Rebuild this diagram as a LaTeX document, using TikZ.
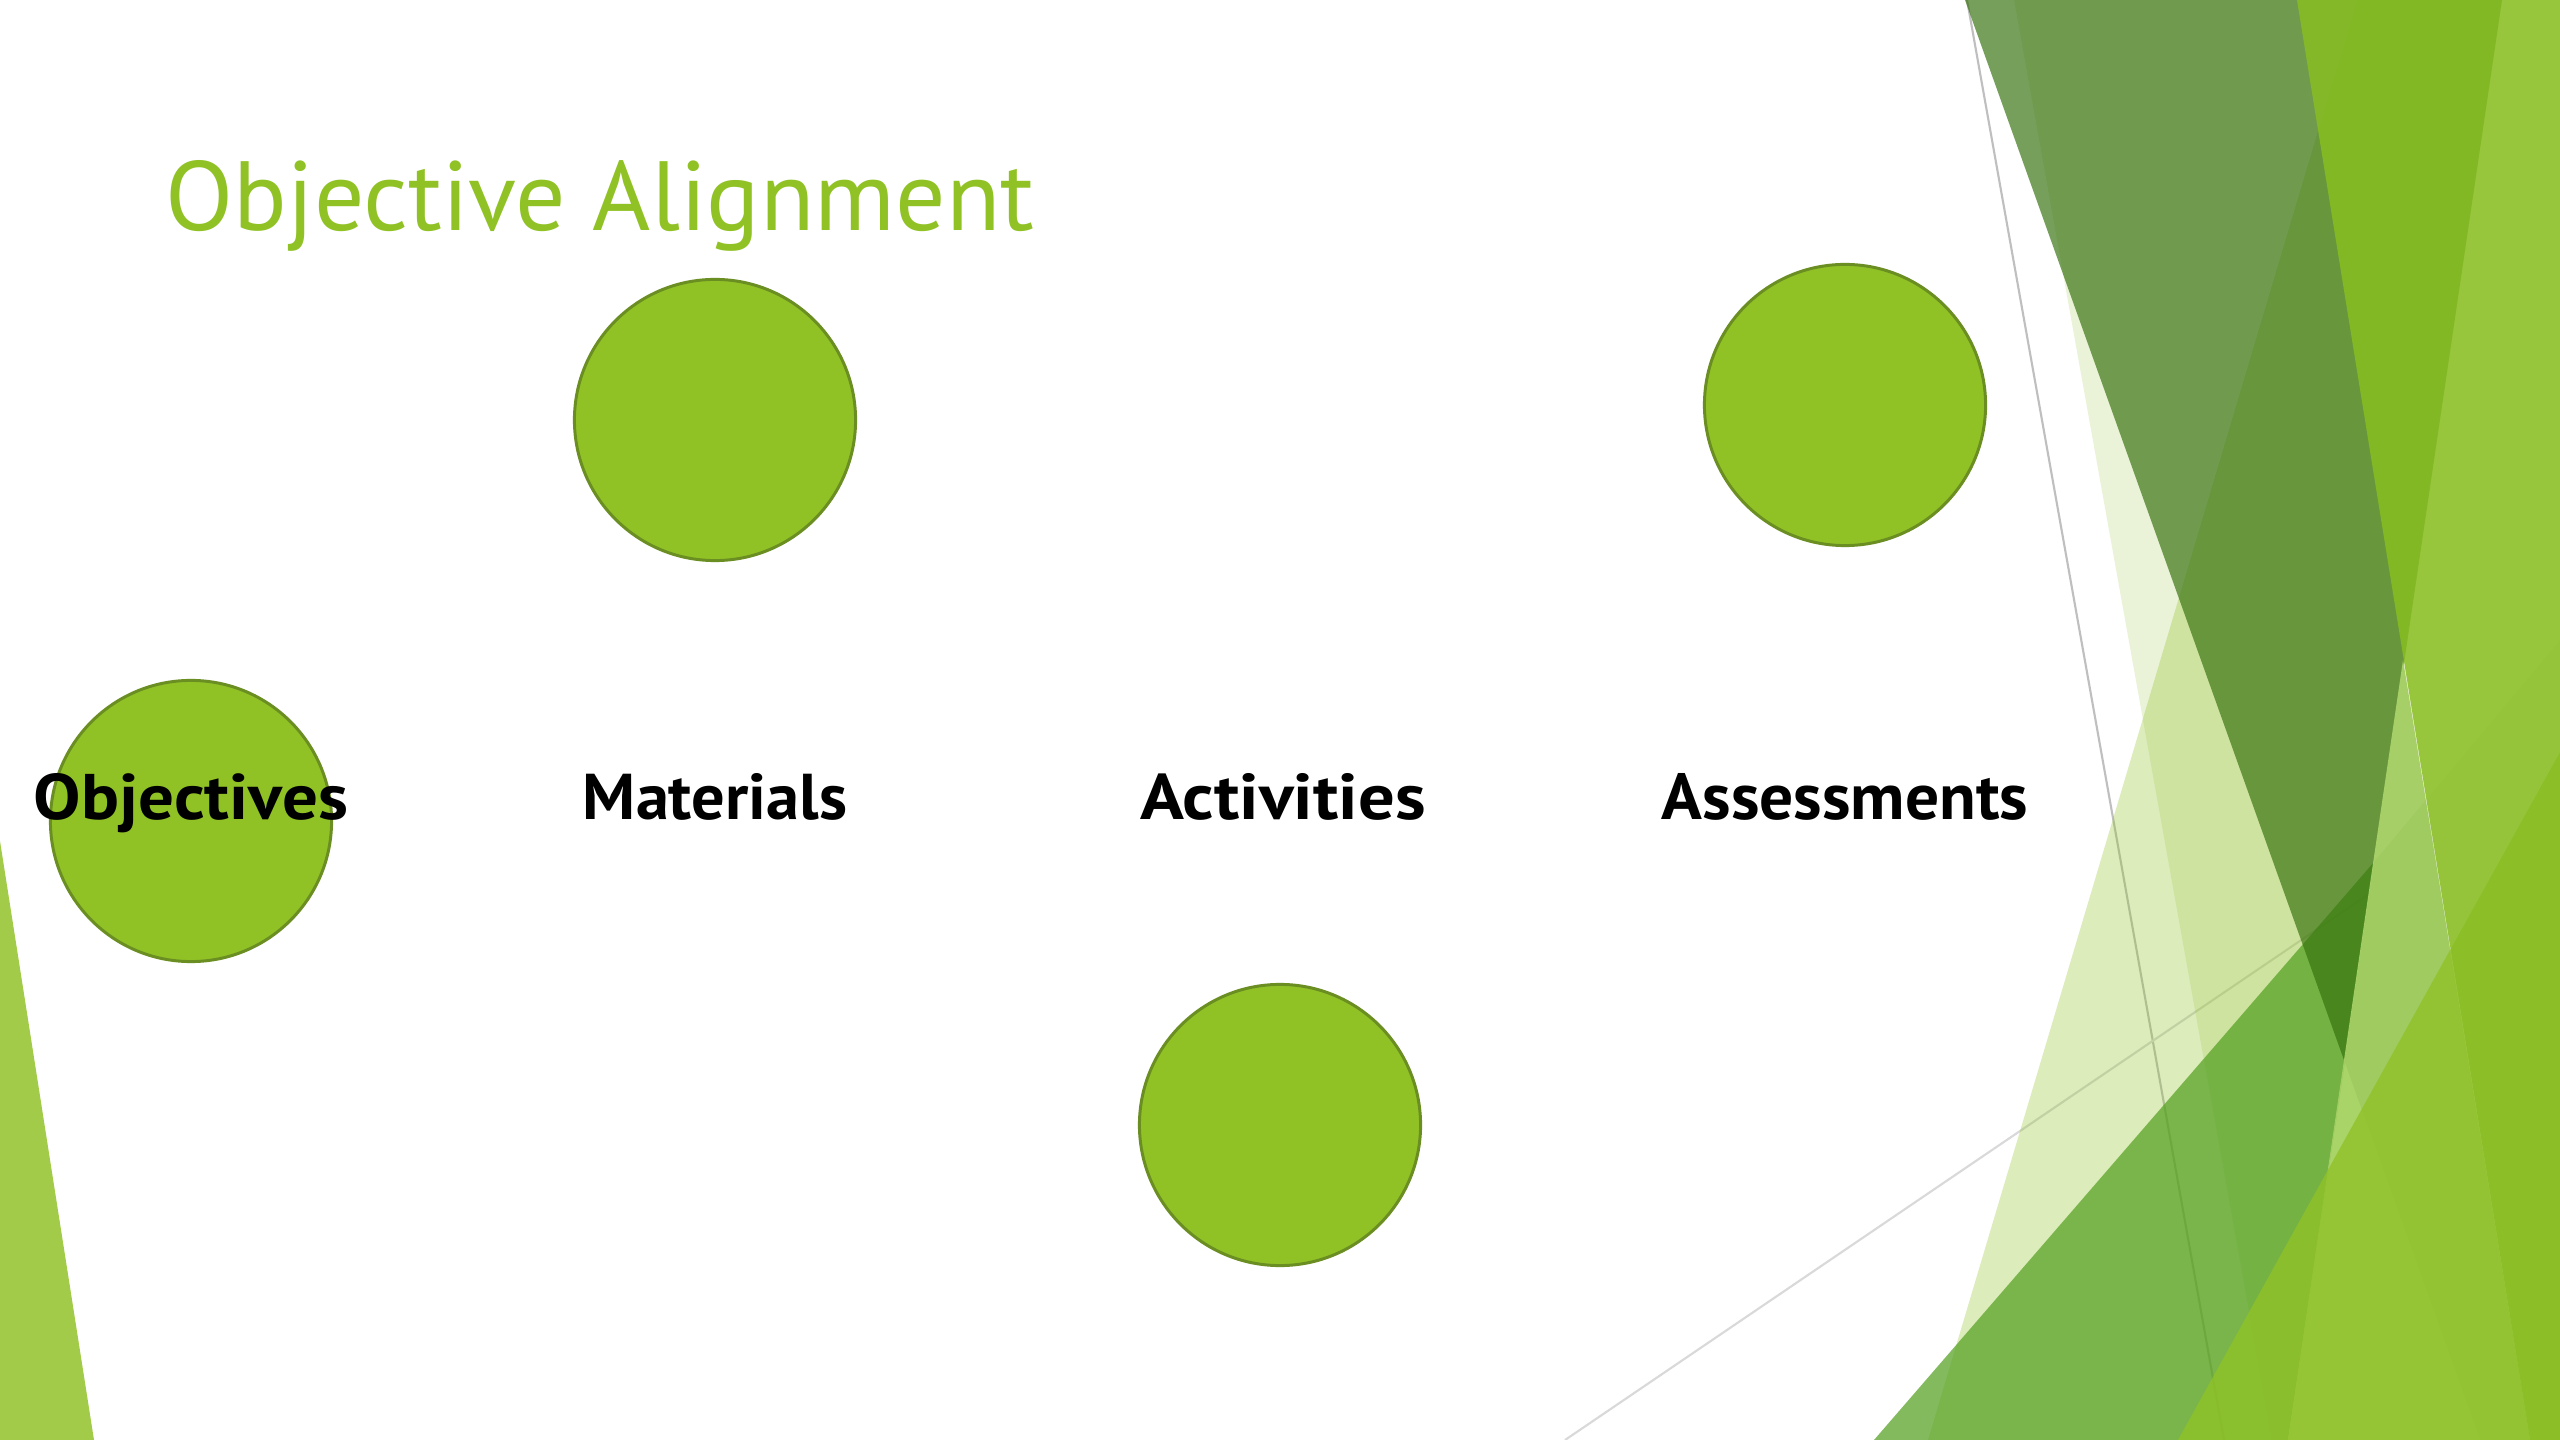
\documentclass[tikz,border=0pt]{standalone}
\usepackage{fontspec}
\usepackage{graphicx}
\setmainfont{PT Sans}
\definecolor{accent}{RGB}{144,194,38}
\definecolor{accentdark}{RGB}{107,142,35}
\definecolor{leaf}{RGB}{84,160,33}
\definecolor{moss}{RGB}{53,113,12}
\definecolor{lime}{RGB}{137,190,34}
\definecolor{sprout}{RGB}{167,207,103}
\definecolor{sprouthi}{RGB}{168,212,104}
\definecolor{sidebar}{RGB}{161,203,73}
\definecolor{rulegray}{RGB}{191,191,191}
\definecolor{rulelight}{RGB}{217,217,217}
\tikzset{
  bubble/.style={circle, draw=accentdark, line width=0.85pt, fill=accent,
                 minimum size=2.81cm, inner sep=0pt},
  stagelabel/.style={anchor=base, inner sep=0pt, text=black},
  facetline/.style={line width=0.6pt},
}
\newcommand{\stagetext}[2]{\resizebox{#1}{0.46cm}{\bfseries #2}}
\begin{document}
\begin{tikzpicture}[x=0.01cm, y=-0.01cm]
  \useasboundingbox (0,0) rectangle (2560,1440);
  \fill[white] (0,0) rectangle (2560,1440);

  % thin rules behind the facets
  \coordinate (r1a) at (1967,0);
  \coordinate (r1b) at (2224,1440);
  \coordinate (r2a) at (1565,1440);
  \coordinate (r2b) at (2369,894);
  \draw[facetline, rulegray] (r1a) -- (r1b);
  \draw[facetline, rulelight] (r2a) -- (r2b);

  % translucent facets on the right
  \fill[accent, opacity=0.18] (2014,0) -- (2560,0) -- (2560,1440) -- (2272,1440) -- cycle;
  \fill[accent, opacity=0.31] (2357,0) -- (2502,0) -- (2288,1440) -- (1928,1440) -- cycle;
  \fill[leaf, opacity=0.72] (1874,1440) -- (2374,862) -- (2288,1440) -- cycle;
  \fill[moss, opacity=0.67] (1965,0) -- (2502,0) -- (2345,1063) -- cycle;
  \fill[sprout] (2403,660) -- (2288,1440) -- (2530,1440) -- cycle;
  \fill[leaf, opacity=0.08] (2374,862) -- (2560,640) -- (2560,1440) -- (2288,1440) -- cycle;
  \fill[sprouthi] (2345,1063) -- (2288,1440) -- (2480,1440) -- cycle;
  \fill[accent, opacity=0.78] (2560,752) -- (2560,1440) -- (2178,1440) -- cycle;
  \fill[lime, opacity=0.85] (2297,0) -- (2560,0) -- (2560,1440) -- (2530,1440) -- cycle;

  % sliver on the left edge
  \fill[sidebar] (0,841) -- (94,1440) -- (0,1440) -- cycle;

  % title
  \node[anchor=base west, inner sep=0pt, text=accent] (title) at (165,231)
    {\resizebox{8.68cm}{0.70cm}{Objective Alignment}};

  % circles
  \node[bubble] (objcircle) at (191,821) {};
  \node[bubble] (matcircle) at (715,420) {};
  \node[bubble] (actcircle) at (1280,1125) {};
  \node[bubble] (asscircle) at (1845,405) {};

  % stage labels
  \node[stagelabel] (objectives)  at (191,820)  {\stagetext{3.14cm}{Objectives}};
  \node[stagelabel] (materials)   at (715,820)  {\stagetext{2.64cm}{Materials}};
  \node[stagelabel] (activities)  at (1283,820) {\stagetext{2.85cm}{Activities}};
  \node[stagelabel] (assessments) at (1845,820) {\stagetext{3.66cm}{Assessments}};
\end{tikzpicture}
\end{document}
